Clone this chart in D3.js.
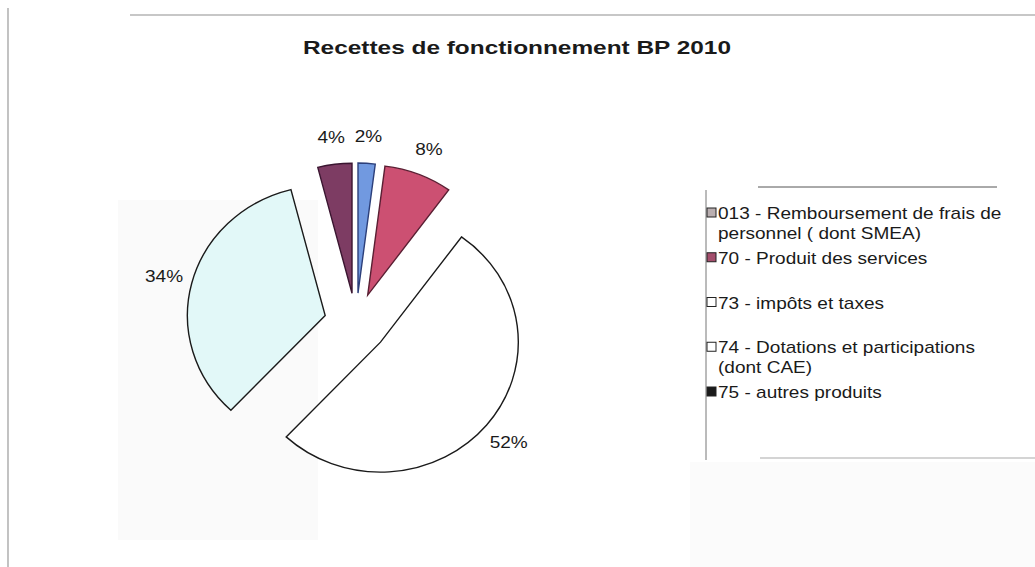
<!DOCTYPE html>
<html>
<head>
<meta charset="utf-8">
<script src="https://cdn.jsdelivr.net/npm/d3@7"></script>
<style>
  html, body { margin: 0; padding: 0; background: #ffffff; }
  svg { display: block; }
  text { font-family: "Liberation Sans", Arial, sans-serif; fill: #1a1a1a; }
</style>
</head>
<body>
<svg id="chart" width="1035" height="567"></svg>
<script>
// ---- data ----
const title = "Recettes de fonctionnement BP 2010";
const categories = [
  "013 - Remboursement de frais de personnel ( dont SMEA)",
  "70 - Produit des services",
  "73 - impôts et taxes",
  "74 - Dotations et participations (dont CAE)",
  "75 - autres produits"
];
const legendLines = [
  ["013 - Remboursement de frais de", "personnel ( dont SMEA)"],
  ["70 - Produit des services"],
  ["73 - impôts et taxes"],
  ["74 - Dotations et participations", "(dont CAE)"],
  ["75 - autres produits"]
];
const values = [2, 8, 52, 34, 4];
const pctLabels = ["2%", "8%", "52%", "34%", "4%"];
const sliceColors = ["#7199e0", "#cc5072", "#ffffff", "#e2f8f8", "#7d3c63"];
const sliceStrokes = ["#2c3f7a", "#5a1f33", "#1a1a1a", "#1a1a1a", "#3a1530"];
const swatchColors = ["#b9aeb0", "#a44e6c", "#ffffff", "#ffffff", "#1a1a1a"];

// ---- layout ----
const svg = d3.select("#chart");
const cx = 356, cy = 323, r = 130, explode = 30, sx = 1.06, labelR = 187;

// faint scan artifacts
svg.append("rect").attr("x", 118).attr("y", 200).attr("width", 200).attr("height", 340).attr("fill", "#fafafa");
svg.append("rect").attr("x", 690).attr("y", 462).attr("width", 345).attr("height", 105).attr("fill", "#fbfbfb");
svg.append("line").attr("x1", 8).attr("y1", 8).attr("x2", 8).attr("y2", 567).attr("stroke", "#9a9a9a").attr("stroke-width", 1.2);
svg.append("line").attr("x1", 130).attr("y1", 15).attr("x2", 1035).attr("y2", 15).attr("stroke", "#b5b5b5").attr("stroke-width", 1.5);
svg.append("line").attr("x1", 758).attr("y1", 187).attr("x2", 997).attr("y2", 187).attr("stroke", "#555").attr("stroke-width", 1);
svg.append("line").attr("x1", 706).attr("y1", 190).attr("x2", 706).attr("y2", 460).attr("stroke", "#777").attr("stroke-width", 1);
svg.append("line").attr("x1", 760).attr("y1", 458).attr("x2", 1035).attr("y2", 458).attr("stroke", "#aaa").attr("stroke-width", 1.2);

// title
svg.append("text")
  .attr("x", 303).attr("y", 54)
  .attr("textLength", 428).attr("lengthAdjust", "spacingAndGlyphs")
  .attr("font-size", 19).attr("font-weight", "bold")
  .text(title);

// pie
const pie = d3.pie().value(d => d).sort(null).startAngle(0).endAngle(2 * Math.PI);
const arcs = pie(values);
const arcGen = d3.arc().innerRadius(0).outerRadius(r);

const g = svg.append("g").attr("transform", `translate(${cx},${cy}) scale(${sx},1)`);
g.selectAll("path.slice")
  .data(arcs)
  .join("path")
  .attr("class", "slice")
  .attr("d", arcGen)
  .attr("transform", d => {
    const a = (d.startAngle + d.endAngle) / 2;
    return `translate(${explode * Math.sin(a)},${-explode * Math.cos(a)})`;
  })
  .attr("fill", (d, i) => sliceColors[i])
  .attr("stroke", (d, i) => sliceStrokes[i])
  .attr("stroke-width", 1.4)
  .attr("vector-effect", "non-scaling-stroke")
  .attr("stroke-linejoin", "miter");

// percent labels
svg.selectAll("g.plabel")
  .data(arcs)
  .join("g")
  .attr("class", "plabel")
  .attr("transform", d => {
    const a = (d.startAngle + d.endAngle) / 2;
    const x = cx + sx * labelR * Math.sin(a);
    const y = cy - labelR * Math.cos(a) + 6;
    return `translate(${x},${y}) scale(1.12,1)`;
  })
  .append("text")
  .attr("text-anchor", "middle")
  .attr("font-size", 17)
  .text((d, i) => pctLabels[i]);

// legend
const ly = d3.scaleLinear().domain([0, 4]).range([213, 392]);
const leg = svg.selectAll("g.leg")
  .data(legendLines)
  .join("g")
  .attr("class", "leg")
  .attr("transform", (d, i) => `translate(707,${ly(i)})`);
leg.append("rect")
  .attr("x", 0).attr("y", -5).attr("width", 9).attr("height", 9)
  .attr("fill", (d, i) => swatchColors[i])
  .attr("stroke", "#222").attr("stroke-width", 1);
leg.each(function(lines) {
  const gg = d3.select(this);
  lines.forEach((t, j) => {
    gg.append("text")
      .attr("transform", `translate(11,${6 + j * 20}) scale(1.12,1)`)
      .attr("font-size", 17)
      .text(t);
  });
});
</script>
</body>
</html>
